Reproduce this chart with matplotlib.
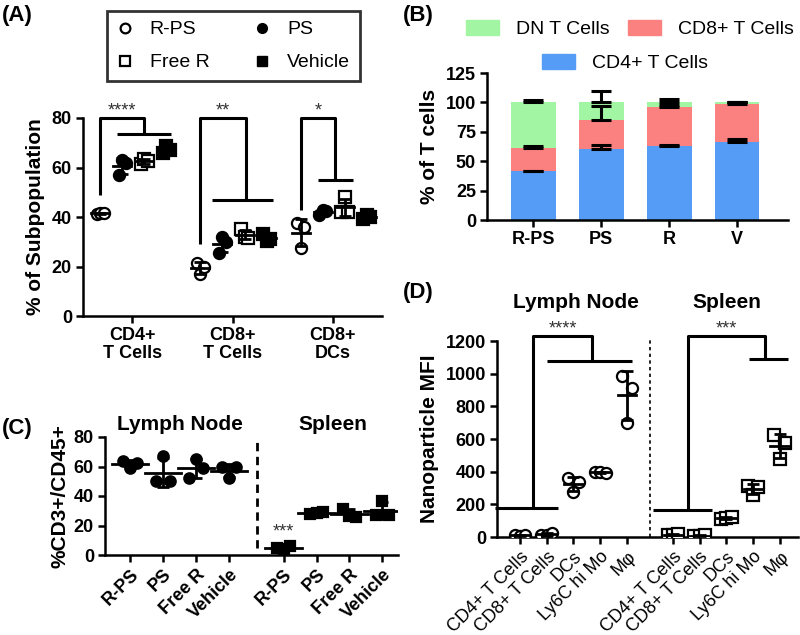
import numpy as np
import matplotlib
matplotlib.use("Agg")
import matplotlib.pyplot as plt
from matplotlib.lines import Line2D
from matplotlib.patches import Patch

plt.rcParams['font.family'] = ['Liberation Sans', 'DejaVu Sans']

# ---------------- data ----------------
# (A) % of subpopulation, 3 mice per group
a_groups = ["CD4+\nT Cells", "CD8+\nT Cells", "CD8+\nDCs"]
a_treatments = ["R-PS", "PS", "Free R", "Vehicle"]
a_rps = [[41.2, 41.8, 41.5], [21.5, 16.8, 20.0], [37.5, 27.5, 36.0]]
a_ps = [[57.0, 63.0, 62.0], [25.5, 32.0, 30.0], [41.0, 43.0, 42.5]]
a_freer = [[61.5, 63.5, 62.5], [35.0, 32.0, 31.5], [42.0, 48.0, 42.0]]
a_vehicle = [[66.0, 68.5, 67.0], [33.0, 30.5, 31.0], [39.0, 41.0, 40.0]]
a_sig = ["****", "**", "*"]
a_sig_leg = [49, 29, 43]
a_sig_drop = [73.5, 47, 55]

# (B) % of T cells, stacked
b_groups = ["R-PS", "PS", "R", "V"]
b_cd4 = [41.3, 60.5, 62.9, 66.6]
b_cd8 = [19.7, 24.5, 32.9, 32.0]
b_dn = [39.0, 15.0, 4.2, 1.4]
b_cd4_err = [0.3, 3.3, 0.9, 2.0]
b_cd8_err = [2.2, 11.6, 2.2, 1.7]
b_dn_err = [2.3, 10.0, 3.0, 0.5]

# (C) %CD3+/CD45+
c_labels = ["R-PS", "PS", "Free R", "Vehicle"]
c_ln = [[64.0, 59.0, 62.5], [50.0, 67.0, 50.0], [52.0, 65.0, 59.0], [60.0, 52.0, 59.5]]
c_sp = [[5.0, 4.0, 6.0], [27.5, 28.5, 29.0], [31.5, 26.5, 26.0], [27.0, 36.5, 27.0]]

# (D) nanoparticle MFI
d_labels = ["CD4+ T Cells", "CD8+ T Cells", "DCs", "Ly6C hi Mo", "M\u03c6"]
d_ln = [[12, 8, 15], [10, 12, 25], [360, 278, 335], [400, 395, 390], [985, 700, 915]]
d_sp = [[15, 10, 20], [8, 5, 10], [112, 118, 122], [315, 258, 305], [622, 477, 578]]

fig = plt.figure(figsize=(8, 6.35), dpi=100)

LW = 1.8
TICKFS = 13
LABFS = 15


def style_axes(ax):
    for s in ['top', 'right']:
        ax.spines[s].set_visible(False)
    for s in ['left', 'bottom']:
        ax.spines[s].set_linewidth(LW)
    ax.tick_params(width=LW, length=5, labelsize=TICKFS, pad=3)
    for t in ax.get_yticklabels():
        t.set_fontweight('bold')


def dot_mean_sd(ax, x, vals, spread, half, marker, filled, ms):
    vals = np.array(vals, dtype=float)
    xs = x + np.array([-spread, 0, spread])
    ax.plot(xs, vals, ls='none', marker=marker, ms=ms,
            mfc='black' if filled else 'white', mec='black', mew=1.6, zorder=3)
    m = vals.mean()
    sd = vals.std(ddof=1)
    ax.plot([x - half, x + half], [m, m], color='black', lw=2, zorder=4)
    ax.errorbar([x], [m], yerr=[sd], fmt='none', ecolor='black',
                elinewidth=2, capsize=4, capthick=2, zorder=4)


def bracket(ax, pts):
    xs = [p[0] for p in pts]
    ys = [p[1] for p in pts]
    ax.plot(xs, ys, color='black', lw=2.2, clip_on=False, solid_capstyle='butt')


# ---------------- (A) ----------------
axA = fig.add_axes([83 / 800, 1 - 316 / 635, 299 / 800, 198 / 635])
offs = [-0.32, -0.1, 0.12, 0.34]
series = [(a_rps, 'o', False), (a_ps, 'o', True), (a_freer, 's', False), (a_vehicle, 's', True)]
for g in range(len(a_groups)):
    for k, (vals, mk, fill) in enumerate(series):
        dot_mean_sd(axA, g + offs[k], vals[g], 0.035, 0.09, mk, fill, 8)
axA.set_xlim(-0.49, 2.49)
axA.set_ylim(0, 80)
axA.set_yticks([0, 20, 40, 60, 80])
axA.set_xticks(range(len(a_groups)))
axA.set_xticklabels(a_groups, fontsize=14, fontweight='bold', linespacing=1.1)
axA.set_ylabel("% of Subpopulation", fontsize=LABFS, fontweight='bold', labelpad=5)
style_axes(axA)

drop_dx = [0.12, 0.13, 0.02]
low_span = [(-0.15, 0.39), (-0.2, 0.4), (-0.15, 0.2)]
for g in range(len(a_groups)):
    xl = g + offs[0]
    xd = g + drop_dx[g]
    bracket(axA, [(xl, a_sig_leg[g]), (xl, 80), (xd, 80), (xd, a_sig_drop[g])])
    bracket(axA, [(g + low_span[g][0], a_sig_drop[g]), (g + low_span[g][1], a_sig_drop[g])])
    axA.text((xl + xd) / 2, 79.5, a_sig[g], ha='center', va='bottom', fontsize=13, color='#333333')

hA = [Line2D([], [], ls='none', marker='o', mfc='white', mec='black', mew=1.6, ms=7),
      Line2D([], [], ls='none', marker='s', mfc='white', mec='black', mew=1.6, ms=7),
      Line2D([], [], ls='none', marker='o', mfc='black', mec='black', ms=7),
      Line2D([], [], ls='none', marker='s', mfc='black', mec='black', ms=7)]
legA = fig.legend(hA, ["R-PS", "Free R", "PS", "Vehicle"], loc='upper left',
                  bbox_to_anchor=(107 / 800, 1 - 11 / 635), ncol=2, fontsize=14,
                  frameon=True, fancybox=False, edgecolor='black', columnspacing=2.3,
                  handletextpad=0.9, handlelength=0.8, labelspacing=0.8, borderpad=0.5,
                  borderaxespad=0)
legA.get_frame().set_linewidth(2)

# ---------------- (B) ----------------
axB = fig.add_axes([487 / 800, 1 - 220 / 635, 301 / 800, 147 / 635])
xb = np.arange(len(b_groups))
cd4 = np.array(b_cd4)
cd8 = np.array(b_cd8)
dn = np.array(b_dn)
c_blue, c_red, c_green = '#559CF7', '#FB8080', '#A2F5A2'
axB.bar(xb, cd4, width=0.66, color=c_blue)
axB.bar(xb, cd8, width=0.66, bottom=cd4, color=c_red)
axB.bar(xb, dn, width=0.66, bottom=cd4 + cd8, color=c_green)
for tops, err in [(cd4, b_cd4_err), (cd4 + cd8, b_cd8_err), (cd4 + cd8 + dn, b_dn_err)]:
    axB.errorbar(xb, tops, yerr=[np.zeros(len(xb)), err], fmt='none', ecolor='black',
                 elinewidth=2.2, capsize=7, capthick=2.2)
axB.set_xlim(-0.68, 3.75)
axB.set_ylim(0, 125)
axB.set_yticks([0, 25, 50, 75, 100, 125])
axB.set_xticks(xb)
axB.set_xticklabels(b_groups, fontsize=14, fontweight='bold')
axB.set_ylabel("% of T cells", fontsize=LABFS, fontweight='bold', labelpad=5)
style_axes(axB)

legB1 = fig.legend([Patch(color=c_green), Patch(color=c_red)], ["DN T Cells", "CD8+ T Cells"],
                   loc='upper center', bbox_to_anchor=(630 / 800, 1 - 12 / 635), ncol=2,
                   fontsize=14, frameon=False, handlelength=1.7, handleheight=0.8,
                   columnspacing=0.9, handletextpad=0.9, borderaxespad=0)
legB2 = fig.legend([Patch(color=c_blue)], ["CD4+ T Cells"], loc='upper center',
                   bbox_to_anchor=(625 / 800, 1 - 46 / 635), fontsize=14, frameon=False,
                   handlelength=1.7, handleheight=0.8, handletextpad=0.9, borderaxespad=0)

# ---------------- (C) ----------------
axC = fig.add_axes([105 / 800, 1 - 555 / 635, 293 / 800, 118 / 635])
xc_ln = np.arange(len(c_labels))
xc_sp = xc_ln + 4.65
for k in range(len(c_labels)):
    dot_mean_sd(axC, xc_ln[k], c_ln[k], 0.2, 0.55, 'o', True, 7.5)
    dot_mean_sd(axC, xc_sp[k], c_sp[k], 0.2, 0.55, 's', True, 7.5)
axC.plot([3.85, 3.85], [5, 80], color='black', lw=2, ls=(0, (3, 2)))
axC.set_xlim(-0.76, 8.12)
axC.set_ylim(0, 80)
axC.set_yticks([0, 20, 40, 60, 80])
axC.set_xticks(np.concatenate([xc_ln, xc_sp]))
axC.set_xticklabels(c_labels + c_labels, rotation=45, ha='right', rotation_mode='anchor',
                    fontsize=13.5, fontweight='bold')
axC.set_ylabel("%CD3+/CD45+", fontsize=LABFS, fontweight='bold', labelpad=3)
style_axes(axC)
axC.text(xc_ln.mean(), 82, "Lymph Node", ha='center', va='bottom', fontsize=LABFS, fontweight='bold')
axC.text(xc_sp.mean(), 82, "Spleen", ha='center', va='bottom', fontsize=LABFS, fontweight='bold')
axC.text(xc_sp[0], 10, "***", ha='center', va='bottom', fontsize=13, color='#333333')

# ---------------- (D) ----------------
axD = fig.add_axes([497 / 800, 1 - 537 / 635, 301 / 800, 196 / 635])
xd_ln = np.arange(len(d_labels))
xd_sp = xd_ln + 5.72
for k in range(len(d_labels)):
    dot_mean_sd(axD, xd_ln[k], d_ln[k], 0.2, 0.35, 'o', False, 8)
    dot_mean_sd(axD, xd_sp[k], d_sp[k], 0.2, 0.35, 's', False, 8)
axD.plot([4.86, 4.86], [0, 1225], color='black', lw=1.2, ls=(0, (2, 2)), clip_on=False)
axD.set_xlim(-0.86, 10.4)
axD.set_ylim(0, 1200)
axD.set_yticks(range(0, 1201, 200))
axD.set_xticks(np.concatenate([xd_ln, xd_sp]))
axD.set_xticklabels(d_labels + d_labels, rotation=45, ha='right', rotation_mode='anchor',
                    fontsize=13.5)
axD.set_ylabel("Nanoparticle MFI", fontsize=LABFS, fontweight='bold', labelpad=5)
style_axes(axD)
bracket(axD, [(-0.93, 175), (1.43, 175)])
bracket(axD, [(0.5, 175), (0.5, 1230), (2.68, 1230), (2.68, 1080)])
bracket(axD, [(1.0, 1080), (4.18, 1080)])
bracket(axD, [(4.96, 168), (7.17, 168)])
bracket(axD, [(6.29, 168), (6.29, 1230), (9.16, 1230), (9.16, 1090)])
bracket(axD, [(8.57, 1090), (10.03, 1090)])
axD.text(1.59, 1222, "****", ha='center', va='bottom', fontsize=13, color='#333333')
axD.text(7.72, 1222, "***", ha='center', va='bottom', fontsize=13, color='#333333')
axD.text(2.1, 1380, "Lymph Node", ha='center', va='bottom', fontsize=LABFS, fontweight='bold')
axD.text(7.75, 1380, "Spleen", ha='center', va='bottom', fontsize=LABFS, fontweight='bold')

# panel letters
for lab, x, y in [("(A)", 2, 5), ("(B)", 403, 5), ("(C)", 2, 418), ("(D)", 403, 282)]:
    fig.text(x / 800, 1 - y / 635, lab, ha='left', va='top', fontsize=16, fontweight='bold')

fig.savefig("out.png", dpi=100)
